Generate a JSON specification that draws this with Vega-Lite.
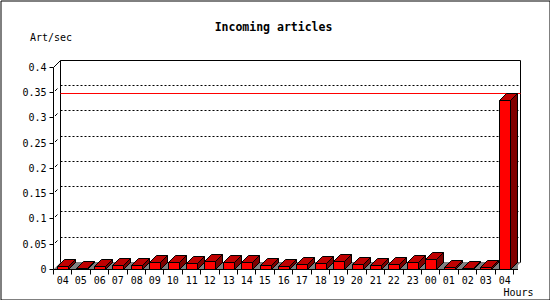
{
  "$schema": "https://vega.github.io/schema/vega-lite/v6.json",
  "width": 549,
  "height": 299,
  "autosize": {"type": "none"},
  "padding": {"left": 0.5, "top": 0.5, "right": 0.5, "bottom": 0.5},
  "background": "white",
  "title": {"text": "Incoming articles", "anchor": "middle", "frame": "group", "font": "DejaVu Sans Mono", "fontSize": 11.5, "fontWeight": "bold", "color": "black", "baseline": "alphabetic", "offset": -42, "dx": -1.5},
  "config": {
    "view": {"stroke": "black", "strokeWidth": 1},
    "axis": {"labelFont": "DejaVu Sans Mono", "labelFontSize": 10, "labelColor": "black", "titleFont": "DejaVu Sans Mono", "titleFontSize": 10, "titleFontWeight": "normal", "titleColor": "black", "tickColor": "black", "tickWidth": 1, "domain": false, "grid": false, "translate": 0}
  },
  "datasets": {
    "bars": [
      {"i": 0, "h": "04", "v": 0.0053},
      {"i": 1, "h": "05", "v": 0.0012},
      {"i": 2, "h": "06", "v": 0.0053},
      {"i": 3, "h": "07", "v": 0.0087},
      {"i": 4, "h": "08", "v": 0.0087},
      {"i": 5, "h": "09", "v": 0.0143},
      {"i": 6, "h": "10", "v": 0.0143},
      {"i": 7, "h": "11", "v": 0.0117},
      {"i": 8, "h": "12", "v": 0.0162},
      {"i": 9, "h": "13", "v": 0.0143},
      {"i": 10, "h": "14", "v": 0.0143},
      {"i": 11, "h": "15", "v": 0.0084},
      {"i": 12, "h": "16", "v": 0.0058},
      {"i": 13, "h": "17", "v": 0.0103},
      {"i": 14, "h": "18", "v": 0.0123},
      {"i": 15, "h": "19", "v": 0.0162},
      {"i": 16, "h": "20", "v": 0.0103},
      {"i": 17, "h": "21", "v": 0.0078},
      {"i": 18, "h": "22", "v": 0.0103},
      {"i": 19, "h": "23", "v": 0.0143},
      {"i": 20, "h": "00", "v": 0.0202},
      {"i": 21, "h": "01", "v": 0.0033},
      {"i": 22, "h": "02", "v": 0.001},
      {"i": 23, "h": "03", "v": 0.0033},
      {"i": 24, "h": "04", "v": 0.335}
    ],
    "grid": [{"g": 0.05}, {"g": 0.1}, {"g": 0.15}, {"g": 0.2}, {"g": 0.25}, {"g": 0.3}, {"g": 0.35}]
  },
  "encoding": {
    "x": {"type": "quantitative", "scale": {"domain": [-3.38043, 26.45653], "nice": false, "zero": false, "round": true},
      "axis": {"orient": "bottom", "offset": -30, "values": [-0.5, 0.5, 1.5, 2.5, 3.5, 4.5, 5.5, 6.5, 7.5, 8.5, 9.5, 10.5, 11.5, 12.5, 13.5, 14.5, 15.5, 16.5, 17.5, 18.5, 19.5, 20.5, 21.5, 22.5, 23.5, 24.5],
        "labelExpr": "['04','05','06','07','08','09','10','11','12','13','14','15','16','17','18','19','20','21','22','23','00','01','02','03','04',''][datum.value + 0.5]",
        "labelOffset": 9.2, "labelFlush": false, "labelOverlap": false, "labelBound": false, "tickSize": 5, "labelPadding": 1, "labelBaseline": "top",
        "title": "Hours", "titleX": 533, "titleY": 26, "titleAlign": "right", "titleBaseline": "alphabetic"}},
    "y": {"type": "quantitative", "scale": {"domain": [-0.059406, 0.532673], "nice": false, "zero": false, "round": true},
      "axis": {"orient": "left", "offset": -53, "values": [0, 0.05, 0.1, 0.15, 0.2, 0.25, 0.3, 0.35, 0.4], "format": "~g", "tickSize": 4, "labelPadding": 3,
        "title": "Art/sec", "titleAngle": 0, "titleAlign": "left", "titleBaseline": "alphabetic", "titleX": -23.5, "titleY": 40.5}}
  },
  "layer": [
    {
      "data": {"values": [{}]},
      "mark": {"type": "rect", "fill": "white", "stroke": "black", "strokeWidth": 1, "xOffset": 7, "x2Offset": 7, "yOffset": -7, "y2Offset": -7},
      "encoding": {
        "x": {"datum": -0.5},
        "x2": {"datum": 24.5},
        "y": {"datum": 0},
        "y2": {"datum": 0.4}
      }
    },
    {
      "data": {"name": "grid"},
      "mark": {"type": "rule", "stroke": "black", "strokeWidth": 1, "strokeDash": [2, 2], "xOffset": 7, "x2Offset": 7, "yOffset": -7},
      "encoding": {
        "x": {"datum": -0.5},
        "x2": {"datum": 24.5},
        "y": {"field": "g"}
      }
    },
    {
      "data": {"name": "grid"},
      "mark": {"type": "rule", "stroke": "black", "strokeWidth": 1, "xOffset": 1.5, "x2Offset": 4, "yOffset": -1.5, "y2Offset": -4},
      "encoding": {
        "x": {"datum": -0.5},
        "x2": {"datum": -0.5},
        "y": {"field": "g"},
        "y2": {"field": "g"}
      }
    },
    {
      "data": {"name": "bars"},
      "transform": [{"aggregate": [{"op": "max", "field": "v", "as": "mx"}]}],
      "mark": {"type": "rule", "stroke": "#ff0000", "strokeWidth": 1, "xOffset": 7, "x2Offset": 7, "yOffset": -7},
      "encoding": {
        "x": {"datum": -0.5},
        "x2": {"datum": 24.5},
        "y": {"field": "mx"}
      }
    },
    {
      "data": {"values": [{}]},
      "mark": {"type": "point", "shape": "M-1,0L1,0L1.0326087,-0.0326087L-0.9673913,-0.0326087Z", "size": 211600, "filled": true, "fill": "#808080", "strokeWidth": 0, "opacity": 1},
      "encoding": {
        "x": {"datum": 12},
        "y": {"datum": 0}
      }
    },
    {
      "data": {"name": "bars"},
      "mark": {"type": "rect", "fill": "#800000", "stroke": "black", "strokeWidth": 1, "xOffset": 6, "x2Offset": 13, "yOffset": -7},
      "encoding": {
        "x": {"field": "i"},
        "x2": {"field": "i"},
        "y": {"field": "v"},
        "y2": {"datum": 0}
      }
    },
    {
      "data": {"name": "bars"},
      "mark": {"type": "point", "shape": "M1.35,0L0.6,0L1.35,-0.75", "size": 400, "filled": true, "fill": "#808080", "stroke": "black", "strokeWidth": 1, "opacity": 1},
      "encoding": {
        "x": {"field": "i"},
        "y": {"datum": 0}
      }
    },
    {
      "data": {"name": "bars"},
      "mark": {"type": "rect", "fill": "#ff0000", "stroke": "black", "strokeWidth": 1, "xOffset": -5, "x2Offset": 6},
      "encoding": {
        "x": {"field": "i"},
        "x2": {"field": "i"},
        "y": {"field": "v"},
        "y2": {"datum": 0}
      }
    },
    {
      "data": {"name": "bars"},
      "mark": {"type": "point", "shape": "M-0.5,0L0.6,0L1.3,-0.7L0.2,-0.7Z", "size": 400, "filled": true, "fill": "#c00000", "stroke": "black", "strokeWidth": 1, "opacity": 1},
      "encoding": {
        "x": {"field": "i"},
        "y": {"field": "v"}
      }
    },
    {
      "data": {"values": [{}]},
      "mark": {"type": "rule", "stroke": "black", "strokeWidth": 1},
      "encoding": {
        "x": {"datum": -0.5},
        "y": {"datum": 0},
        "y2": {"datum": 0.4}
      }
    },
    {
      "data": {"values": [{}]},
      "mark": {"type": "rule", "stroke": "black", "strokeWidth": 1, "x2Offset": 7, "y2Offset": -7},
      "encoding": {
        "x": {"datum": -0.5},
        "x2": {"datum": -0.5},
        "y": {"datum": 0.4},
        "y2": {"datum": 0.4}
      }
    },
    {
      "data": {"values": [{}]},
      "mark": {"type": "rule", "stroke": "black", "strokeWidth": 1},
      "encoding": {
        "x": {"datum": -0.5},
        "x2": {"datum": 24.5},
        "y": {"datum": 0}
      }
    }
  ]
}
